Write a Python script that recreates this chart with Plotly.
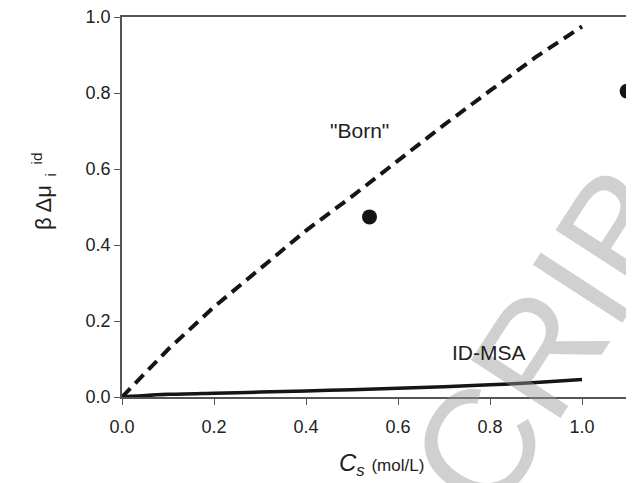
import plotly.graph_objects as go

# Data
cs_curve = [0.0, 0.1, 0.2, 0.3, 0.4, 0.5, 0.6, 0.7, 0.8, 0.9, 1.0]
born = [0.0, 0.125, 0.237, 0.338, 0.438, 0.528, 0.622, 0.716, 0.806, 0.895, 0.975]
id_msa = [0.0, 0.007, 0.010, 0.013, 0.016, 0.019, 0.023, 0.027, 0.032, 0.038, 0.046]
cs_points = [0.538, 1.098]
sim_points = [0.474, 0.805]
x_ticks = [0.0, 0.2, 0.4, 0.6, 0.8, 1.0]
y_ticks = [0.0, 0.2, 0.4, 0.6, 0.8, 1.0]

FONT = "Liberation Sans, Arial, sans-serif"
INK = "#151515"
TXT = "#222"

fig = go.Figure()
fig.add_trace(go.Scatter(x=cs_curve, y=born, mode="lines",
                         line=dict(color=INK, width=4, dash="12px,7px"),
                         showlegend=False, hoverinfo="skip"))
fig.add_trace(go.Scatter(x=cs_curve, y=id_msa, mode="lines",
                         line=dict(color=INK, width=3.5, shape="spline", smoothing=0.6),
                         showlegend=False, hoverinfo="skip"))
fig.add_trace(go.Scatter(x=cs_points, y=sim_points, mode="markers",
                         marker=dict(color=INK, size=15),
                         showlegend=False, hoverinfo="skip", cliponaxis=False))

fig.update_layout(
    width=634, height=483,
    margin=dict(l=114, r=0, t=9, b=94),
    paper_bgcolor="white", plot_bgcolor="white",
    font=dict(family=FONT, color=TXT, size=18),
    xaxis=dict(range=[0, 1.1304], tickvals=x_ticks, ticktext=[f"{v:.1f}" for v in x_ticks],
               showgrid=False, zeroline=False, showline=True, linecolor="#555", linewidth=1.5,
               mirror=True, ticks="outside", ticklen=6, tickcolor="#555", tickwidth=1.2,
               ticklabelstandoff=7, ticklabeloverflow="allow",
               tickfont=dict(size=18, family=FONT, color=TXT)),
    yaxis=dict(range=[0, 1.0], tickvals=y_ticks, ticktext=[f"{v:.1f}" for v in y_ticks],
               showgrid=False, zeroline=False, showline=True, linecolor="#555", linewidth=1.5,
               ticks="outside", ticklen=6, tickcolor="#555", tickwidth=1.2,
               ticklabeloverflow="allow",
               tickfont=dict(size=18, family=FONT, color=TXT)),
)

# watermark-like letters (semi transparent)
fig.add_annotation(text="CRIB", xref="paper", yref="paper",
                   x=(540 - 114) / 520, y=(389 - 330) / 380,
                   xanchor="center", yanchor="middle",
                   showarrow=False, textangle=-57,
                   font=dict(family=FONT, size=155, color="rgba(150,150,150,0.45)"))

fig.add_annotation(text='"Born"', xref="x", yref="y", x=0.516, y=0.702,
                   xanchor="center", yanchor="middle",
                   showarrow=False, font=dict(family=FONT, size=21, color=TXT))
fig.add_annotation(text="ID-MSA", xref="x", yref="y", x=0.797, y=0.118,
                   xanchor="center", yanchor="middle",
                   showarrow=False, font=dict(family=FONT, size=21, color=TXT))

fig.add_annotation(text="β Δμ<sub>  i</sub><sup>  id</sup>", xref="paper", yref="paper",
                   x=(35 - 114) / 520, y=(389 - 184) / 380, textangle=-90,
                   xanchor="center", yanchor="middle",
                   showarrow=False, font=dict(family=FONT, size=22, color=TXT))
fig.add_annotation(text="<i>C<sub>s</sub></i> <span style='font-size:17px'>(mol/L)</span>",
                   xref="paper", yref="paper",
                   x=(373 - 114) / 520, y=(389 - 456) / 380,
                   xanchor="center", yanchor="middle",
                   showarrow=False, font=dict(family=FONT, size=24, color=TXT))

fig.write_html("out.html")
